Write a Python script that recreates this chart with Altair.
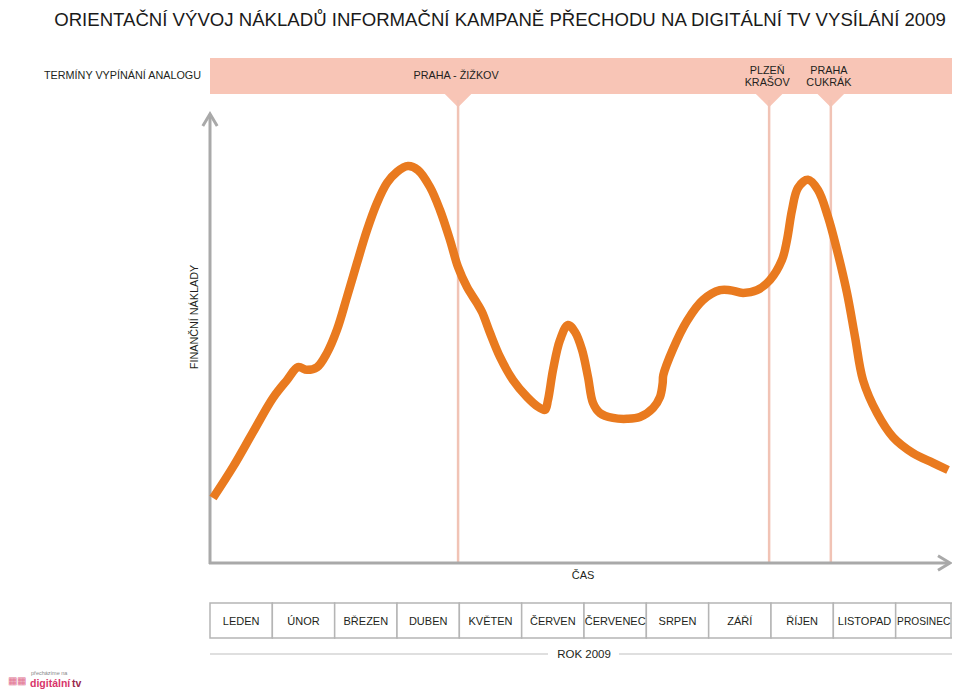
import altair as alt
import pandas as pd

# ---------------- data ----------------
# cost curve (x in months from 1 Jan 2009, y = relative cost index 0..100)
curve_month = [0.048, 0.369, 0.690, 1.011, 1.235, 1.412, 1.556, 1.717, 1.877, 2.037,
               2.198, 2.358, 2.519, 2.679, 2.840, 3.000, 3.176, 3.337, 3.529, 3.690,
               3.850, 3.979, 4.123, 4.283, 4.364, 4.492, 4.652, 4.861, 5.086, 5.262,
               5.374, 5.422, 5.503, 5.615, 5.743, 5.856, 5.968, 6.064, 6.144, 6.257,
               6.465, 6.690, 6.898, 7.107, 7.219, 7.262, 7.272, 7.428, 7.652, 7.909,
               8.182, 8.342, 8.551, 8.775, 8.984, 9.176, 9.257, 9.337, 9.433, 9.594,
               9.754, 9.914, 10.059, 10.219, 10.348, 10.476, 10.701, 10.957, 11.278,
               11.599, 11.840]
curve_cost = [14.6, 21.6, 29.4, 37.1, 41.1, 44.0, 43.4, 44.0, 47.2, 52.4,
              59.8, 67.4, 74.8, 80.9, 85.4, 87.9, 89.2, 88.3, 84.5, 79.3,
              72.6, 66.5, 62.0, 58.4, 56.4, 51.7, 46.3, 41.1, 37.3, 35.1,
              34.4, 36.6, 43.4, 50.1, 53.5, 51.9, 47.9, 41.8, 36.0, 33.7,
              32.6, 32.4, 32.8, 34.8, 37.3, 40.4, 42.2, 48.1, 54.4, 59.1,
              61.3, 61.3, 60.7, 61.3, 63.6, 68.1, 72.6, 79.3, 84.3, 86.1,
              83.8, 77.8, 70.3, 60.7, 50.8, 41.1, 33.7, 28.3, 24.7,
              22.5, 20.9]

month_names = ["LEDEN", "ÚNOR", "BŘEZEN", "DUBEN", "KVĚTEN", "ČERVEN",
               "ČERVENEC", "SRPEN", "ZÁŘÍ", "ŘÍJEN", "LISTOPAD", "PROSINEC"]

event_names = ["PRAHA - ŽIŽKOV", "PLZEŇ\nKRAŠOV", "PRAHA\nCUKRÁK"]
event_month = [3.98, 8.97, 9.96]

title_text = "ORIENTAČNÍ VÝVOJ NÁKLADŮ INFORMAČNÍ KAMPANĚ PŘECHODU NA DIGITÁLNÍ TV VYSÍLÁNÍ 2009"
band_label = "TERMÍNY VYPÍNÁNÍ ANALOGU"
y_title = "FINANČNÍ NÁKLADY"
x_title = "ČAS"
year_label = "ROK 2009"

# ---------------- styling ----------------
FONT = "Liberation Sans"
TXT = "#231f20"
ORANGE = "#e97a1f"
PINK = "#f8c5b6"
PINK_LINE = "#f1c3b5"
GRAY = "#a9a9a9"
W, H = 944, 685

xs = alt.Scale(domain=[0, 12], range=[202, 950])
ys = alt.Scale(domain=[0, 100], range=[555, 110])

curve_df = pd.DataFrame({"month": curve_month, "cost": curve_cost})
months_df = pd.DataFrame({
    "name": month_names,
    "start": list(range(12)),
    "end": [i + 1 for i in range(12)],
    "mid": [i + 0.5 for i in range(12)],
})
events_df = pd.DataFrame({"name": event_names, "month": event_month})
one = alt.Data(values=[{"a": 1}])

def txt(text, x, y, size=11, align="center", baseline="middle", color=TXT, **kw):
    return alt.Chart(one).mark_text(
        text=text, font=FONT, fontSize=size, align=align, baseline=baseline,
        color=color, **kw
    ).encode(x=alt.value(x), y=alt.value(y))

def rule(x, x2, y, y2, color=GRAY, width=3, **kw):
    return alt.Chart(one).mark_rule(color=color, strokeWidth=width, **kw).encode(
        x=alt.value(x), x2=alt.value(x2), y=alt.value(y), y2=alt.value(y2))

title = txt(title_text, 492, 17.5, size=18.6, baseline="alphabetic", color="#1a1a1a")

band = alt.Chart(one).mark_rect(color=PINK).encode(
    x=alt.value(202), x2=alt.value(950), y=alt.value(50), y2=alt.value(86))
band_lab = txt(band_label, 193, 68, size=10.8, align="right")

tri = alt.Chart(events_df).mark_point(
    shape="M-1,-0.5L1,-0.5L0,0.5Z", filled=True, size=729, color=PINK, opacity=1
).encode(x=alt.X("month:Q", scale=xs, axis=None), y=alt.value(92.5))

ev_lines = alt.Chart(events_df).mark_rule(color=PINK_LINE, strokeWidth=2.5).encode(
    x=alt.X("month:Q", scale=xs, axis=None), y=alt.value(92), y2=alt.value(555))

ev_labels = alt.Chart(events_df).mark_text(
    font=FONT, fontSize=10.8, color=TXT, align="center", baseline="middle",
    lineBreak="\n", lineHeight=12.5, dx=-2
).encode(x=alt.X("month:Q", scale=xs, axis=None), y=alt.value(62.5), text="name:N")
ev_label_single = ev_labels.transform_filter("indexof(datum.name, '\\n') < 0").encode(
    y=alt.value(68))
ev_label_multi = ev_labels.transform_filter("indexof(datum.name, '\\n') >= 0")

# axes with arrows
y_axis = rule(202, 202, 106, 556)
x_axis = rule(201, 941, 555, 555)
y_arrow = alt.Chart(one).mark_point(
    shape="M-0.6,1L0,0L0.6,1", filled=False, size=576, color=GRAY,
    strokeWidth=3, opacity=1
).encode(x=alt.value(202), y=alt.value(106))
x_arrow = alt.Chart(one).mark_point(
    shape="M-0.6,1L0,0L0.6,1", filled=False, size=576, color=GRAY,
    strokeWidth=3, opacity=1, angle=90
).encode(x=alt.value(942), y=alt.value(555))

curve = alt.Chart(curve_df).mark_line(
    color=ORANGE, strokeWidth=8.5, interpolate="catmull-rom", strokeCap="butt",
    strokeJoin="round"
).encode(
    x=alt.X("month:Q", scale=xs, axis=None),
    y=alt.Y("cost:Q", scale=ys, axis=None),
)

y_lab = txt(y_title, 187, 309, size=10.8, angle=270)
x_lab = txt(x_title, 575, 568, size=11)

cells = alt.Chart(months_df).mark_rect(fill="white", stroke="#b5b5b5", strokeWidth=1.5).encode(
    x=alt.X("start:Q", scale=xs, axis=None), x2="end:Q",
    y=alt.value(595), y2=alt.value(630))
cell_close = rule(943, 943, 595, 630, color="#b5b5b5", width=1.5)
cell_lab = alt.Chart(months_df).transform_calculate(
    labx="datum.start == 11 ? 11.45 : datum.mid"
).mark_text(
    font=FONT, color=TXT, align="center", baseline="middle"
).encode(
    x=alt.X("labx:Q", scale=xs, axis=None), y=alt.value(614), text="name:N",
    size=alt.condition("datum.start == 11", alt.value(10.2), alt.value(11)),
)

year_l = rule(202, 540, 646, 646, color="#c0c0c0", width=1.2)
year_r = rule(611, 950, 646, 646, color="#c0c0c0", width=1.2)
year_t = txt(year_label, 576, 647, size=11.5)

# small logo in the bottom-left corner
logo1 = txt("přecházíme na", 23, 665, size=5.5, align="left", color="#888888")
logo2 = txt("digitální", 22, 679, size=10.5, align="left", baseline="alphabetic",
            color="#d8356a", fontWeight="bold")
logo3 = txt("tv", 64, 679, size=10.5, align="left", baseline="alphabetic",
            color="#9a2a50", fontWeight="bold")
logo_icon = txt("▦▦", 0, 673, size=10, align="left", color="#e06c8c")

chart = alt.layer(
    title, band, band_lab, tri, ev_lines, ev_label_single, ev_label_multi,
    y_axis, x_axis, y_arrow, x_arrow, curve, y_lab, x_lab,
    cells, cell_close, cell_lab, year_l, year_r, year_t,
    logo_icon, logo1, logo2, logo3,
).properties(
    width=W, height=H, autosize=alt.AutoSizeParams(type="none"), padding=0
).configure_view(stroke=None)

chart.save("out.html", embed_options={"renderer": "svg", "actions": False})
